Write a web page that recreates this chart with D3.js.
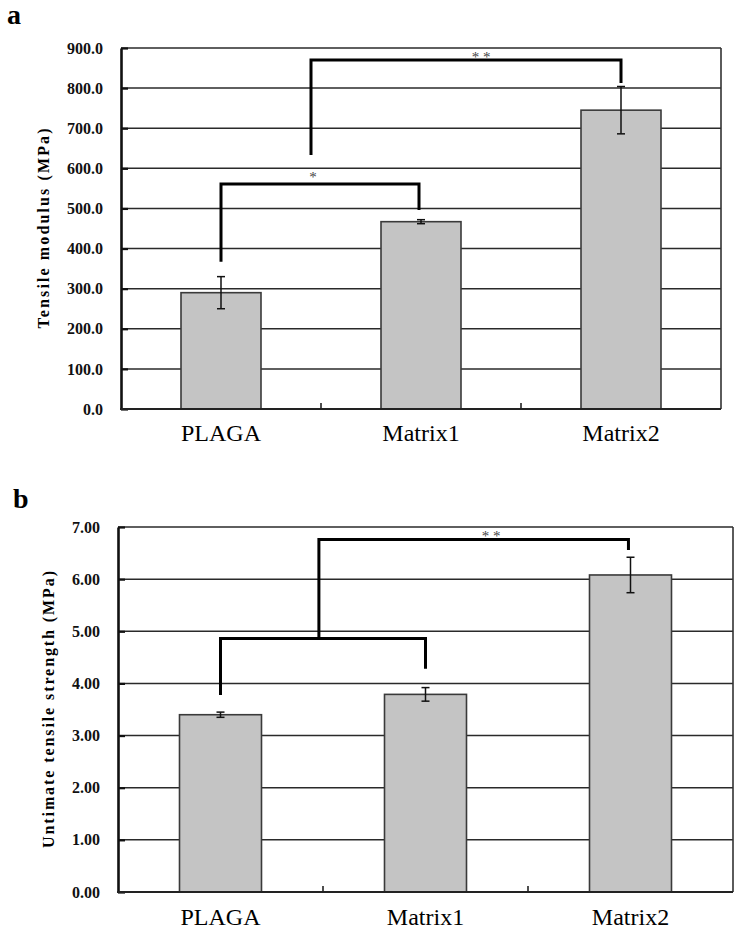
<!DOCTYPE html>
<html>
<head>
<meta charset="utf-8">
<script src="https://cdn.jsdelivr.net/npm/d3@7"></script>
<style>
  body { margin: 0; background: #fff; }
  svg { display: block; }
  text { font-family: "Liberation Serif", "Times New Roman", serif; }
</style>
</head>
<body>
<svg id="chart" width="743" height="932"></svg>
<script>
// values
const groups = ["PLAGA", "Matrix1", "Matrix2"]

const modulusMean = [290, 467, 745]
const modulusErr = [40, 5, 59]
const modulusTicks = [0, 100, 200, 300, 400, 500, 600, 700, 800, 900]

const strengthMean = [3.40, 3.79, 6.08]
const strengthErr = [0.05, 0.13, 0.34]
const strengthTicks = [0, 1, 2, 3, 4, 5, 6, 7]

// significance brackets: x in category index units, y in data units
const modulusBrackets = [
    {x0: 0, x1: 0.99, yLeft: 367, yTop: 561, yRight: 496, label: "*", labelX: 0.46, labelY: 586},
    {x0: 0.45, x1: 2.0, yLeft: 633, yTop: 870, yRight: 813, label: "* *", labelX: 1.3, labelY: 885}
]
const strengthBrackets = [
    {x0: 0, x1: 1.0, yLeft: 3.78, yTop: 4.86, yRight: 4.28, label: "", labelX: 0, labelY: 0},
    {x0: 0.48, x1: 1.99, yLeft: 4.86, yTop: 6.76, yRight: 6.56, label: "* *", labelX: 1.32, labelY: 6.88}
]

var svg = d3.select("#chart")

function drawPanel(cfg) {
    var g = svg.append("g")

    var x = d3.scaleLinear().domain([-0.5, groups.length - 0.5]).range([cfg.left, cfg.right])
    var y = d3.scaleLinear().domain([0, cfg.ticks[cfg.ticks.length - 1]]).range([cfg.bottom, cfg.top])
    var band = x(1) - x(0)
    var barW = band * 0.4

    // panel letter
    g.append("text")
        .attr("x", cfg.letterX).attr("y", cfg.letterY)
        .attr("font-size", 28).attr("font-weight", "bold")
        .text(cfg.letter)

    // gridlines
    g.selectAll(".grid")
        .data(cfg.ticks.slice(1))
        .enter().append("line")
        .attr("x1", cfg.left).attr("x2", cfg.right)
        .attr("y1", d => y(d)).attr("y2", d => y(d))
        .attr("stroke", "#2a2a2a").attr("stroke-width", 1.5)

    // right border
    g.append("line")
        .attr("x1", cfg.right).attr("x2", cfg.right)
        .attr("y1", cfg.top).attr("y2", cfg.bottom)
        .attr("stroke", "#333").attr("stroke-width", 1.6)

    // left axis
    var yAxis = d3.axisLeft(y)
        .tickValues(cfg.ticks)
        .tickFormat(d3.format(cfg.fmt))
        .tickSizeInner(-7).tickSizeOuter(0).tickPadding(18)
    var ax = g.append("g").attr("transform", "translate(" + cfg.left + ",0)").call(yAxis)
    ax.select(".domain").attr("stroke", "#111").attr("stroke-width", 2.6)
    ax.selectAll(".tick line").attr("stroke", "#111").attr("stroke-width", 2.2)
    ax.selectAll(".tick text")
        .attr("font-size", 16).attr("font-weight", "bold").attr("fill", "#111")

    // bars
    g.selectAll(".bar")
        .data(cfg.mean)
        .enter().append("rect")
        .attr("x", (d, i) => x(i) - barW / 2)
        .attr("width", barW)
        .attr("y", d => y(d))
        .attr("height", d => y(0) - y(d))
        .attr("fill", "#c4c4c4")
        .attr("stroke", "#3a3a3a").attr("stroke-width", 1.6)

    // error bars
    var eb = g.selectAll(".err")
        .data(cfg.mean)
        .enter().append("g")
        .attr("stroke", "#111").attr("stroke-width", 1.5)
    eb.append("line")
        .attr("x1", (d, i) => x(i)).attr("x2", (d, i) => x(i))
        .attr("y1", (d, i) => y(d + cfg.err[i])).attr("y2", (d, i) => y(d - cfg.err[i]))
    eb.append("line")
        .attr("x1", (d, i) => x(i) - 4).attr("x2", (d, i) => x(i) + 4)
        .attr("y1", (d, i) => y(d + cfg.err[i])).attr("y2", (d, i) => y(d + cfg.err[i]))
    eb.append("line")
        .attr("x1", (d, i) => x(i) - 4).attr("x2", (d, i) => x(i) + 4)
        .attr("y1", (d, i) => y(d - cfg.err[i])).attr("y2", (d, i) => y(d - cfg.err[i]))

    // bottom axis
    g.append("line")
        .attr("x1", cfg.left - 1).attr("x2", cfg.right)
        .attr("y1", cfg.bottom).attr("y2", cfg.bottom)
        .attr("stroke", "#222").attr("stroke-width", 2.2)
    g.selectAll(".ctick")
        .data([0.5, 1.5])
        .enter().append("line")
        .attr("x1", d => x(d)).attr("x2", d => x(d))
        .attr("y1", cfg.bottom).attr("y2", cfg.bottom - 6)
        .attr("stroke", "#222").attr("stroke-width", 1.6)

    // category labels
    g.selectAll(".cat")
        .data(groups)
        .enter().append("text")
        .attr("x", (d, i) => x(i)).attr("y", cfg.catY)
        .attr("text-anchor", "middle").attr("font-size", 24)
        .text(d => d)

    // y label
    g.append("text")
        .attr("transform", "translate(" + cfg.ylabX + "," + ((cfg.top + cfg.bottom) / 2) + ") rotate(-90)")
        .attr("text-anchor", "middle").attr("font-size", 16).attr("font-weight", "bold")
        .attr("textLength", cfg.ylabLen).attr("lengthAdjust", "spacing")
        .text(cfg.ylab)

    // significance brackets
    g.selectAll(".bracket")
        .data(cfg.brackets)
        .enter().append("path")
        .attr("d", d => "M" + x(d.x0) + "," + y(d.yLeft) + "V" + y(d.yTop) + "H" + x(d.x1) + "V" + y(d.yRight))
        .attr("fill", "none").attr("stroke", "#000").attr("stroke-width", 3)
    g.selectAll(".star")
        .data(cfg.brackets.filter(d => d.label))
        .enter().append("text")
        .attr("x", d => x(d.labelX)).attr("y", d => y(d.labelY) + 8)
        .attr("text-anchor", "middle").attr("font-size", 15).attr("fill", "#444")
        .text(d => d.label)
}

drawPanel({
    left: 121, right: 721, top: 48, bottom: 409,
    ticks: modulusTicks, fmt: ".1f", mean: modulusMean, err: modulusErr,
    brackets: modulusBrackets,
    letter: "a", letterX: 7, letterY: 24,
    catY: 441, ylabX: 49, ylabLen: 200, ylab: "Tensile modulus (MPa)"
})

drawPanel({
    left: 118, right: 733, top: 527, bottom: 892,
    ticks: strengthTicks, fmt: ".2f", mean: strengthMean, err: strengthErr,
    brackets: strengthBrackets,
    letter: "b", letterX: 13, letterY: 508,
    catY: 925, ylabX: 54, ylabLen: 277, ylab: "Untimate tensile strength (MPa)"
})
</script>
</body>
</html>
